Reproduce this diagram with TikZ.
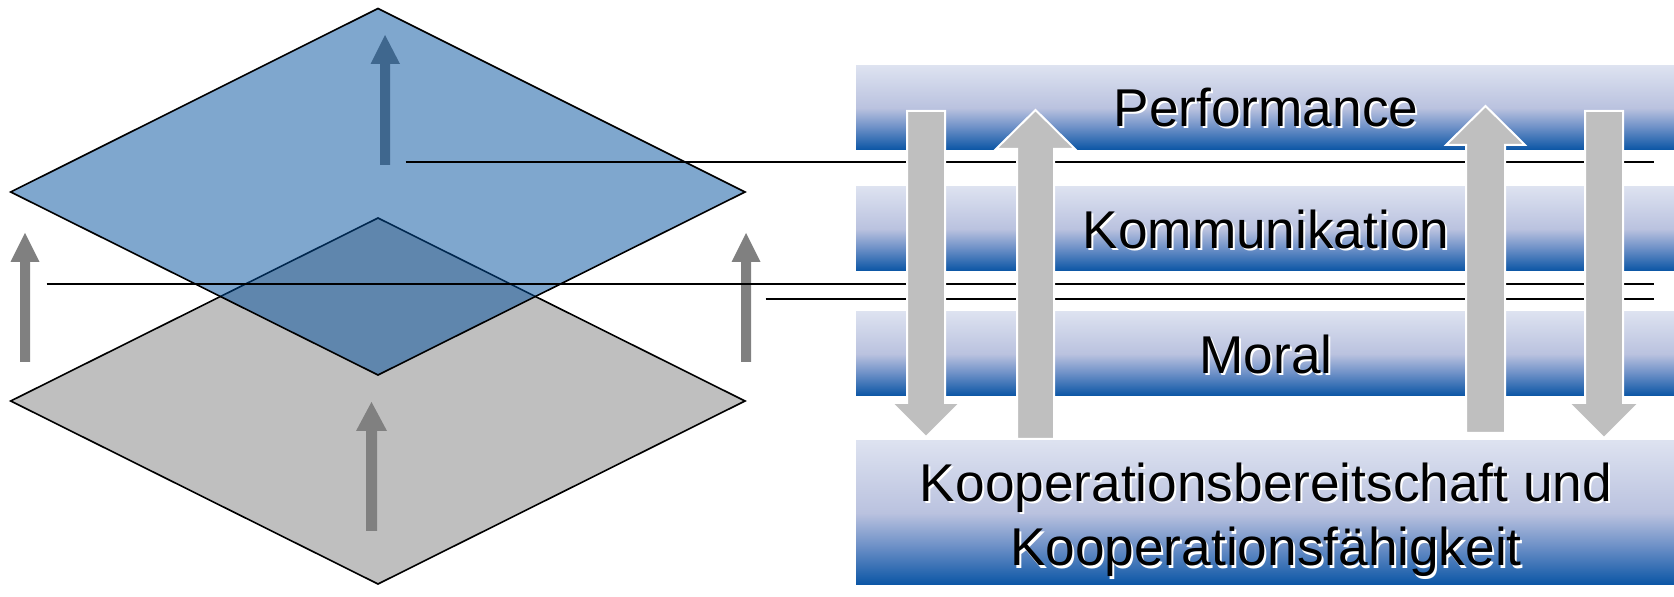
\documentclass[tikz,border=0pt]{standalone}
\usepackage{fontspec}
\setmainfont{Liberation Sans}

\definecolor{planeblue}{RGB}{0,79,157}
\definecolor{planegray}{RGB}{191,191,191}
\definecolor{liftgray}{RGB}{128,128,128}
\definecolor{blockgray}{RGB}{191,191,191}
\definecolor{bandbot}{RGB}{10,85,165}
\definecolor{bandlow}{RGB}{112,146,200}
\definecolor{bandmid}{RGB}{186,194,223}
\definecolor{bandtop}{RGB}{221,226,240}

% light lavender at the top, deep blue at the bottom edge
\pgfdeclareverticalshading{bandshade}{100bp}{color(0bp)=(bandbot); color(25bp)=(bandbot); color(39bp)=(bandlow); color(50bp)=(bandmid); color(75bp)=(bandtop); color(100bp)=(bandtop)}

\tikzset{
  plane/.style={draw=black, line width=0.8pt, line join=miter},
  lift/.style={fill=liftgray},
  tie/.style={draw=black, line width=0.8pt},
  band/.style={shading=bandshade, inner sep=0pt, outer sep=0pt, minimum width=409pt},
  blockarrow/.style={fill=blockgray, draw=white, line width=1pt, line join=miter},
  bandtext/.style={font=\fontsize{26.6}{31}\selectfont, inner sep=0pt, anchor=base},
}

% text with a soft white drop shadow
\newcommand\layertext[4]{%
  \node[bandtext, text=white, xshift=1pt, yshift=-1pt] at (#2,#3) {#4};
  \node[bandtext] (#1) at (#2,#3) {#4};}

\begin{document}
\begin{tikzpicture}[x=0.5pt, y=-0.5pt]
\useasboundingbox (0,0) rectangle (1674,597);

% lower plane
\path[plane, fill=planegray] (378,218) -- (745,401) -- (378,584) -- (10.7,401) -- cycle;
% rising arrows below and through the upper plane
\path[lift] (366,531) -- (377,531) -- (377,431) -- (387,431) -- (371.5,402) -- (356,431) -- (366,431) -- cycle;
\path[lift] (380,165) -- (390,165) -- (390,64) -- (400,64) -- (385,35) -- (370.5,64) -- (380,64) -- cycle;
% upper plane, half transparent
\path[plane, fill=planeblue, fill opacity=0.5] (378,8.5) -- (745,192) -- (378,375) -- (10.7,192) -- cycle;
% side arrows
\path[lift] (20,362) -- (30,362) -- (30,262) -- (39.5,262) -- (25,233) -- (10.5,262) -- (20,262) -- cycle;
\path[lift] (741,362) -- (751,362) -- (751,262) -- (760.5,262) -- (746,233) -- (731.5,262) -- (741,262) -- cycle;

% level lines
\coordinate (l1a) at (405.7,162);   \coordinate (l1b) at (1654,162);
\coordinate (l2a) at (46.7,284.3);  \coordinate (l2b) at (1654,284.3);
\coordinate (l3a) at (765.7,299.3); \coordinate (l3b) at (1654,299.3);
\draw[tie] (l1a) -- (l1b);
\draw[tie] (l2a) -- (l2b);
\draw[tie] (l3a) -- (l3b);

% layer bands
\node[band, minimum height=42pt] (perfband) at (1265,108) {};
\node[band, minimum height=42pt] (kommband) at (1265,229) {};
\node[band, minimum height=42pt] (moralband) at (1265,354) {};
\node[band, minimum height=72pt] (koopband) at (1265,513) {};

% block arrows between the layers
\path[blockarrow] (907,111) -- (945,111) -- (945,403) -- (960,403) -- (926,437) -- (892,403) -- (907,403) -- cycle;
\path[blockarrow] (1017,439) -- (1054,439) -- (1054,149) -- (1075,149) -- (1035.5,110) -- (996,149) -- (1017,149) -- cycle;
\path[blockarrow] (1466,433) -- (1505,433) -- (1505,145) -- (1525,145) -- (1485.5,106) -- (1446,145) -- (1466,145) -- cycle;
\path[blockarrow] (1585,111) -- (1623,111) -- (1623,403) -- (1639,403) -- (1604,438) -- (1569,403) -- (1585,403) -- cycle;

% band texts
\layertext{perf}{1266}{126.5}{Performance}
\layertext{komm}{1266}{248.3}{Kommunikation}
\layertext{moral}{1266}{374}{Moral}
\layertext{koopa}{1266}{501.7}{Kooperationsbereitschaft und}
\layertext{koopb}{1266}{566}{Kooperationsfähigkeit}
\end{tikzpicture}
\end{document}
